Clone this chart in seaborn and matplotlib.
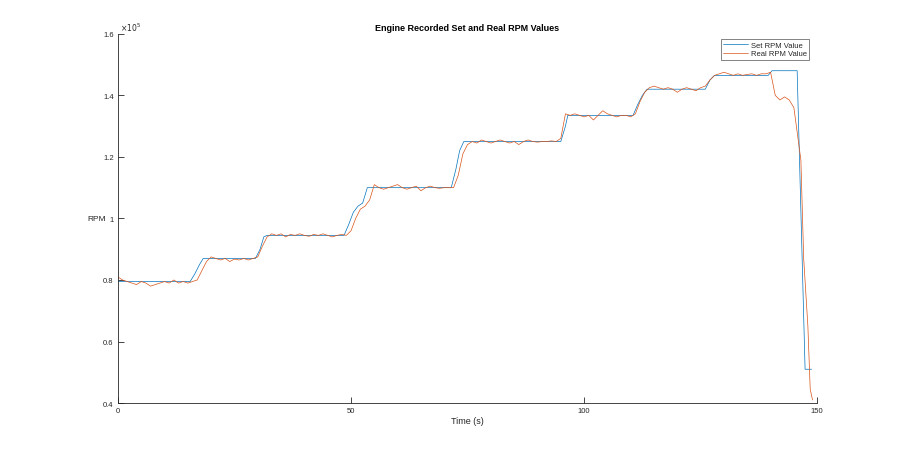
import numpy as np
import pandas as pd
import matplotlib
matplotlib.use("Agg")
import matplotlib.pyplot as plt
import matplotlib.ticker as ticker
import seaborn as sns

# set point (x 1e5 RPM), breakpoints in seconds
set_t = [0, 15.5, 16.5, 17.5, 18.3, 29.5, 30.5, 31.3, 32, 48.5, 49.5, 50.5, 51.5, 52.5, 53.5,
         71.5, 72.5, 73.3, 74.2, 95, 96, 96.5, 110.5, 111.5, 112.5, 113.5, 126, 127, 128,
         139.5, 140.3, 145.7, 147.4, 148.8]
set_v = [0.795, 0.795, 0.82, 0.85, 0.87, 0.87, 0.90, 0.94, 0.945, 0.945, 0.98, 1.02, 1.04, 1.05, 1.10,
         1.10, 1.16, 1.22, 1.25, 1.25, 1.30, 1.335, 1.335, 1.37, 1.40, 1.42, 1.42, 1.45, 1.465,
         1.465, 1.48, 1.48, 0.51, 0.51]

# measured RPM (x 1e5)
real_t = list(range(0, 146)) + [146.5, 147.1, 148, 148.5, 149]
real_v = [0.81, 0.80, 0.795, 0.79, 0.785, 0.795, 0.79, 0.78, 0.785, 0.79,
          0.795, 0.79, 0.80, 0.79, 0.795, 0.79, 0.795, 0.80, 0.83, 0.86,
          0.875, 0.87, 0.865, 0.87, 0.86, 0.868, 0.865, 0.87, 0.865, 0.87,
          0.875, 0.91, 0.94, 0.95, 0.945, 0.95, 0.94, 0.948, 0.945, 0.95,
          0.945, 0.942, 0.948, 0.945, 0.95, 0.945, 0.94, 0.945, 0.948, 0.945,
          0.96, 1.00, 1.03, 1.04, 1.06, 1.11, 1.10, 1.095, 1.10, 1.105,
          1.11, 1.10, 1.095, 1.10, 1.105, 1.09, 1.10, 1.105, 1.10, 1.098,
          1.10, 1.10, 1.10, 1.14, 1.21, 1.24, 1.25, 1.245, 1.255, 1.25,
          1.245, 1.25, 1.255, 1.25, 1.245, 1.25, 1.24, 1.25, 1.255, 1.25,
          1.248, 1.25, 1.25, 1.252, 1.25, 1.26, 1.34, 1.335, 1.34, 1.335,
          1.33, 1.335, 1.32, 1.335, 1.35, 1.34, 1.335, 1.33, 1.335, 1.335,
          1.33, 1.34, 1.38, 1.41, 1.425, 1.43, 1.425, 1.42, 1.425, 1.42,
          1.41, 1.42, 1.425, 1.42, 1.415, 1.425, 1.43, 1.45, 1.465, 1.47,
          1.475, 1.47, 1.465, 1.47, 1.465, 1.468, 1.47, 1.465, 1.47, 1.47,
          1.475, 1.40, 1.385, 1.395, 1.385, 1.36,
          1.19, 0.87, 0.65, 0.445, 0.41]

df_set = pd.DataFrame({"t": set_t, "rpm": np.array(set_v) * 1e5, "series": "Set RPM Value"})
df_real = pd.DataFrame({"t": real_t, "rpm": np.array(real_v) * 1e5, "series": "Real RPM Value"})
df = pd.concat([df_set, df_real], ignore_index=True)

sns.set_style("white")
plt.rcParams["font.family"] = ["Liberation Sans", "DejaVu Sans"]

fig = plt.figure(figsize=(9, 4.52), dpi=100)
ax = fig.add_axes([0.131, 0.106, 0.777, 0.817])

sns.lineplot(data=df, x="t", y="rpm", hue="series", palette=["#0072BD", "#D95319"],
             sort=False, estimator=None, linewidth=0.5, ax=ax)

ax.set_xlim(0, 150)
ax.set_ylim(0.4e5, 1.6e5)
ax.set_xticks([0, 50, 100, 150])
ax.set_yticks([0.4e5, 0.6e5, 0.8e5, 1.0e5, 1.2e5, 1.4e5, 1.6e5])
ax.yaxis.set_major_formatter(ticker.FuncFormatter(lambda v, p: "%g" % round(v / 1e5, 2)))
ax.text(0.003, 1.003, r"$\times10^5$", transform=ax.transAxes, fontsize=5.5,
        color="#262626", ha="left", va="bottom")

ax.tick_params(direction="in", length=4, width=0.6, labelsize=5.5, colors="#262626",
               left=True, bottom=True, pad=3)
for s in ["top", "right"]:
    ax.spines[s].set_visible(False)
for s in ["left", "bottom"]:
    ax.spines[s].set_color("#262626")
    ax.spines[s].set_linewidth(0.6)

ax.set_xlabel("Time (s)", fontsize=6.5, color="#262626", labelpad=1)
ax.set_ylabel("RPM", fontsize=6, color="#262626", rotation=0, ha="center", va="center")
ax.yaxis.set_label_coords(-0.03, 0.5)
ax.set_title("Engine Recorded Set and Real RPM Values", fontsize=6.5, fontweight="bold",
             color="black", pad=2.5)

leg = ax.legend(loc="upper right", bbox_to_anchor=(0.994, 0.995), fontsize=5.5,
                frameon=True, fancybox=False, handlelength=3.2, borderpad=0.3,
                labelspacing=0.1, handletextpad=0.4)
leg.get_frame().set_edgecolor("#262626")
leg.get_frame().set_linewidth(0.5)

fig.savefig("out.png", dpi=100)
